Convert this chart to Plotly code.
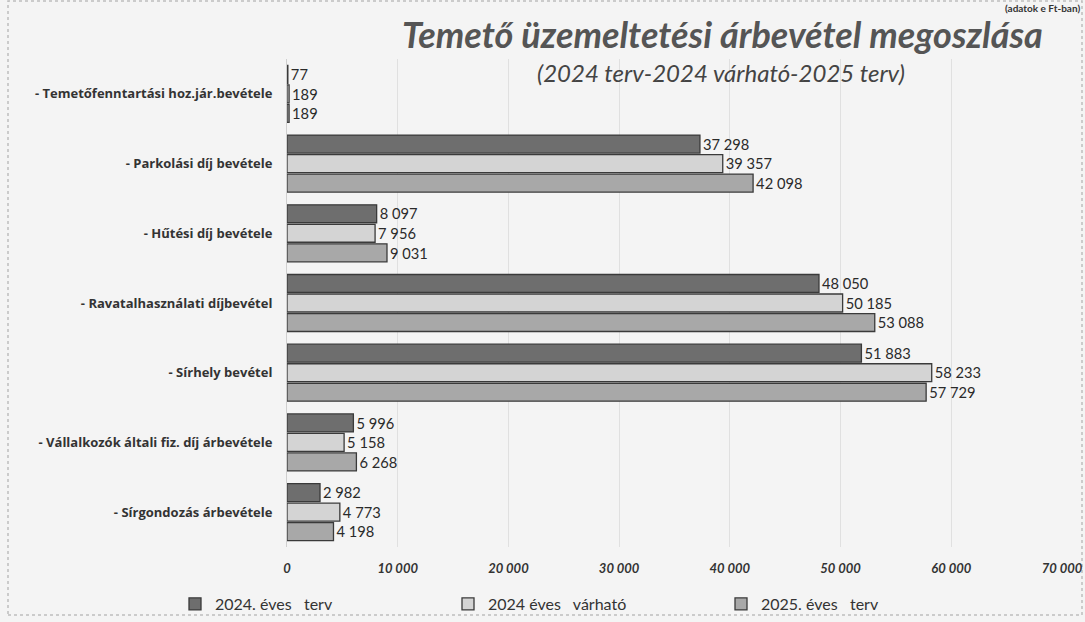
import plotly.graph_objects as go

categories = [
    "- Temetőfenntartási hoz.jár.bevétele",
    "- Parkolási díj bevétele",
    "- Hűtési díj bevétele",
    "- Ravatalhasználati díjbevétel",
    "- Sírhely bevétel",
    "- Vállalkozók általi fiz. díj árbevétele",
    "- Sírgondozás árbevétele",
]
terv_2024 = [77, 37298, 8097, 48050, 51883, 5996, 2982]
varhato_2024 = [189, 39357, 7956, 50185, 58233, 5158, 4773]
terv_2025 = [189, 42098, 9031, 53088, 57729, 6268, 4198]
series_names = ["2024.\u00a0éves\u00a0\u00a0\u00a0terv", "2024\u00a0éves\u00a0\u00a0\u00a0várható", "2025.\u00a0éves\u00a0\u00a0\u00a0terv"]
tick_vals = [0, 10000, 20000, 30000, 40000, 50000, 60000, 70000]
tick_text = ["0", "10 000", "20 000", "30 000", "40 000", "50 000", "60 000", "70 000"]

colors = ["#6e6e6e", "#d4d4d4", "#a8a8a8"]

W, H = 1085, 622
L, R, T, B = 287, 1062, 59, 547
PW, PH = R - L, B - T

def px_x(x):
    return (x - L) / PW

def px_y(y):
    return (B - y) / PH

def fmt(v):
    return f"{v:,}".replace(",", "\u00a0")

fig = go.Figure()
for name, vals, col in zip(series_names, [terv_2024, varhato_2024, terv_2025], colors):
    fig.add_trace(go.Bar(
        name=name, y=categories, x=vals, orientation="h",
        marker=dict(color=col, line=dict(color="#3a3a3a", width=1.3)),
        text=[fmt(v) for v in vals], textposition="outside",
        textfont=dict(family="Lato", size=18, color="#2a2a2a"),
        cliponaxis=False,
    ))

fig.update_layout(
    width=W, height=H,
    barmode="group", bargap=0.16, bargroupgap=0.08,
    paper_bgcolor="#f4f4f4", plot_bgcolor="#f4f4f4",
    margin=dict(l=L, r=W - R, t=T, b=H - B, autoexpand=False),
    font=dict(family="Lato", color="#333333"),
    xaxis=dict(range=[0, 70000], tickvals=tick_vals, ticktext=tick_text,
               showgrid=True, gridcolor="#e0e0e0", zeroline=False, automargin=False,
               tickfont=dict(family="Lato", size=13, color="#333333", style="italic", weight="bold"),
               ticks="", ticklabelstandoff=12),
    yaxis=dict(autorange="reversed", showgrid=False, automargin=False,
               tickfont=dict(family="Open Sans", size=13, color="#333333", weight="bold"),
               ticks="", ticklabelstandoff=11, showline=True, linecolor="#cfcfcf"),
    legend=dict(orientation="h", x=px_x(175), xanchor="left", y=px_y(587), yanchor="top",
                entrywidth=228, entrywidthmode="pixels",
                font=dict(family="Lato", size=16, color="#333333"),
                bgcolor="rgba(0,0,0,0)"),
    showlegend=True,
)

fig.add_annotation(text="Temető üzemeltetési árbevétel megoszlása",
                   xref="paper", yref="paper", x=px_x(722), y=px_y(34),
                   xanchor="center", yanchor="middle", showarrow=False,
                   font=dict(family="Lato", size=36, color="#555555", style="italic", weight="bold"))
fig.add_annotation(text="(2024 terv-2024 várható-2025 terv)",
                   xref="paper", yref="paper", x=px_x(721), y=px_y(73),
                   xanchor="center", yanchor="middle", showarrow=False,
                   font=dict(family="Lato", size=24, color="#444444", style="italic"))
fig.add_annotation(text="(adatok e Ft-ban)",
                   xref="paper", yref="paper", x=px_x(1082), y=px_y(0),
                   xanchor="right", yanchor="top", showarrow=False,
                   font=dict(family="Lato", size=10, color="#333333", weight="bold"))
fig.add_shape(type="rect", xref="paper", yref="paper",
              x0=px_x(8), x1=px_x(1082), y0=px_y(615), y1=px_y(1),
              line=dict(color="#bdbdbd", width=1.5, dash="dot"), layer="below")

fig.write_html("out.html", config={"displayModeBar": False},
               post_script="document.body.style.margin='0';document.body.style.padding='0';")
